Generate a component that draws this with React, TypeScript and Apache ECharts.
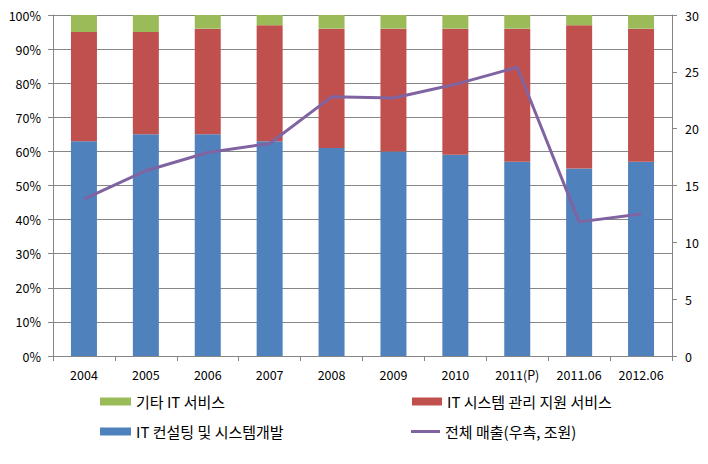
import React, { useEffect, useRef } from "react";
import * as echarts from "echarts";

const categories = ["2004", "2005", "2006", "2007", "2008", "2009", "2010", "2011(P)", "2011.06", "2012.06"];
const consulting = [63, 65, 65, 63, 61, 60, 59, 57, 55, 57];
const management = [32, 30, 31, 34, 35, 36, 37, 39, 42, 39];
const others = [5, 5, 4, 3, 4, 4, 4, 4, 3, 4];
const totalSales = [13.8, 16.3, 17.9, 18.7, 22.8, 22.7, 23.9, 25.4, 11.8, 12.5];

const FONT = "'Noto Sans CJK KR', 'DejaVu Sans', sans-serif";

export default function App() {
  const ref = useRef<HTMLDivElement>(null);
  useEffect(() => {
    const chart = echarts.init(ref.current!, null, { renderer: "svg" });
    const legendText = { fontFamily: FONT, fontSize: 15, color: "#000" };
    const lg = { padding: 0, itemHeight: 8, textStyle: legendText, icon: "rect" };
    chart.setOption({
      animation: false,
      backgroundColor: "#fff",
      textStyle: { fontFamily: FONT },
      grid: { left: 53, right: 36, top: 15, bottom: 108 },
      legend: [
        { ...lg, data: ["기타 IT 서비스"], left: 100, top: 394, itemWidth: 31 },
        { ...lg, data: ["IT 시스템 관리 지원 서비스"], left: 412, top: 394, itemWidth: 30 },
        { ...lg, data: ["IT 컨설팅 및 시스템개발"], left: 100, top: 424, itemWidth: 31 },
        { ...lg, data: ["전체 매출(우측, 조원)"], left: 411, top: 424, itemWidth: 29, itemHeight: 3 },
      ],
      xAxis: {
        type: "category",
        data: categories,
        axisLine: { lineStyle: { color: "#868686" } },
        axisTick: { show: true, length: 5, lineStyle: { color: "#868686" } },
        axisLabel: { color: "#000", fontSize: 12.5, margin: 12, interval: 0 },
      },
      yAxis: [
        {
          type: "value",
          min: 0,
          max: 100,
          interval: 10,
          axisLine: { show: true, lineStyle: { color: "#868686" } },
          axisTick: { show: true, length: 5, lineStyle: { color: "#868686" } },
          axisLabel: { formatter: "{value}%", color: "#000", fontSize: 12.5, margin: 12 },
          splitLine: { lineStyle: { color: "#868686" } },
        },
        {
          type: "value",
          min: 0,
          max: 30,
          interval: 5,
          position: "right",
          axisLine: { show: true, lineStyle: { color: "#868686" } },
          axisTick: { show: true, length: 5, lineStyle: { color: "#868686" } },
          axisLabel: { color: "#000", fontSize: 12.5, margin: 13 },
          splitLine: { show: false },
        },
      ],
      series: [
        { name: "IT 컨설팅 및 시스템개발", type: "bar", stack: "s", data: consulting, barWidth: 26, itemStyle: { color: "#4F81BD" } },
        { name: "IT 시스템 관리 지원 서비스", type: "bar", stack: "s", data: management, barWidth: 26, itemStyle: { color: "#C0504D" } },
        { name: "기타 IT 서비스", type: "bar", stack: "s", data: others, barWidth: 26, itemStyle: { color: "#9BBB59" } },
        {
          name: "전체 매출(우측, 조원)",
          type: "line",
          yAxisIndex: 1,
          data: totalSales,
          symbol: "none",
          lineStyle: { color: "#8064A2", width: 3 },
          itemStyle: { color: "#8064A2" },
        },
      ],
      graphic: [
        { type: "rect", shape: { x: 1, y: 1, width: 705, height: 459 }, style: { fill: "none", stroke: "#868686", lineWidth: 1 }, silent: true },
      ],
    });
    return () => chart.dispose();
  }, []);
  return <div ref={ref} style={{ width: 708, height: 464, margin: -8 }} />;
}
